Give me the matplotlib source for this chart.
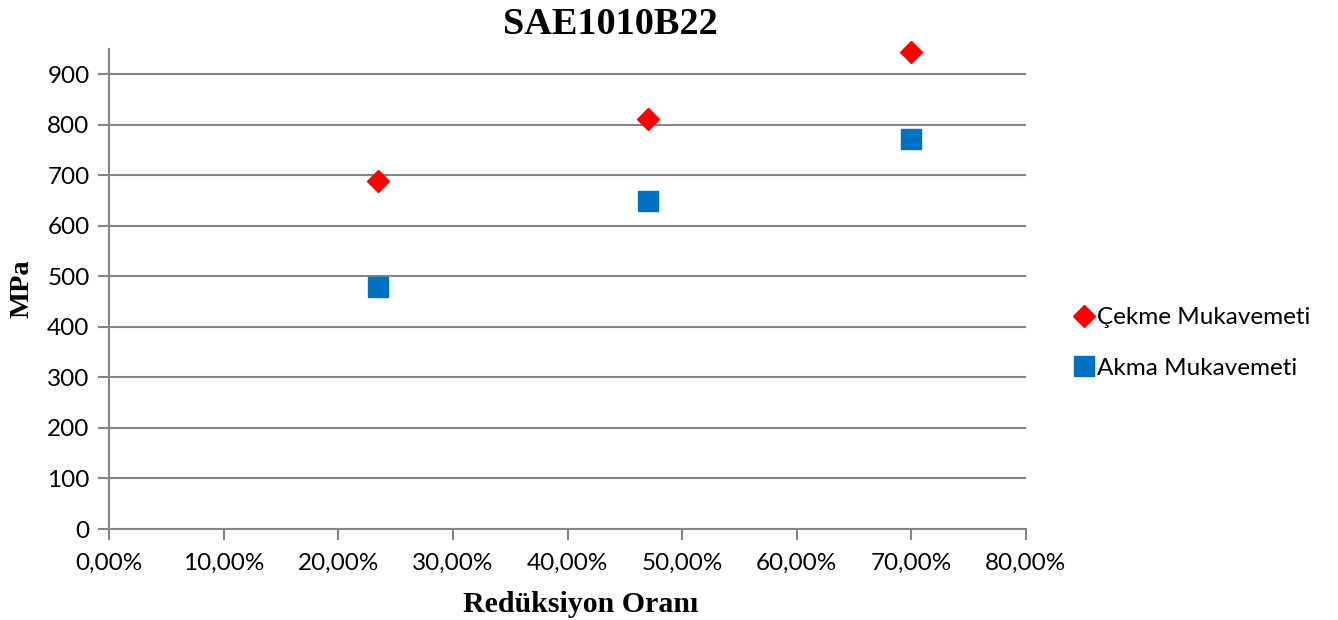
import matplotlib
matplotlib.use('Agg')
import matplotlib.pyplot as plt
from matplotlib.ticker import FuncFormatter

# data
reduction = [0.235, 0.470, 0.700]
cekme = [688, 811, 945]   # Çekme Mukavemeti (MPa)
akma = [479, 649, 771]    # Akma Mukavemeti (MPa)
x_ticks = [0.0, 0.1, 0.2, 0.3, 0.4, 0.5, 0.6, 0.7, 0.8]
y_ticks = [0, 100, 200, 300, 400, 500, 600, 700, 800, 900]

plt.rcParams['font.family'] = ['Lato', 'DejaVu Sans']
grey = '#868686'

fig = plt.figure(figsize=(13.38, 6.2), dpi=100)
ax = fig.add_axes([109 / 1338, 1 - 529 / 620, (1026 - 109) / 1338, (529 - 49) / 620])

ax.plot(reduction, cekme, linestyle='none', marker='D', color='#FF0000',
        markersize=11, label='Çekme Mukavemeti', zorder=3, clip_on=False)
ax.plot(reduction, akma, linestyle='none', marker='s', color='#0070C0',
        markersize=14, label='Akma Mukavemeti', zorder=3, clip_on=False)

ax.set_xlim(0, 0.8)
ax.set_ylim(0, 950)
ax.set_xticks(x_ticks)
ax.set_yticks(y_ticks)
ax.xaxis.set_major_formatter(FuncFormatter(lambda v, p: f'{v * 100:.2f}%'.replace('.', ',')))
ax.yaxis.grid(True, color=grey, linewidth=1.5)
ax.set_axisbelow(True)

for s in ['top', 'right']:
    ax.spines[s].set_visible(False)
for s in ['left', 'bottom']:
    ax.spines[s].set_color(grey)
    ax.spines[s].set_linewidth(1.5)
ax.tick_params(axis='both', direction='out', length=8, width=1.5, color=grey,
               labelsize=17.5, labelcolor='black')
ax.tick_params(axis='x', pad=9)
ax.tick_params(axis='y', pad=6)

serif = ['Liberation Serif', 'DejaVu Serif']
fig.text(610 / 1338, 1 - 25 / 620, 'SAE1010B22', family=serif, fontweight='bold',
         fontsize=27.5, ha='center', va='center')
fig.text(581 / 1338, 1 - 604 / 620, 'Redüksiyon Oranı', family=serif, fontweight='bold',
         fontsize=21.5, ha='center', va='center')
fig.text(22 / 1338, 1 - 289 / 620, 'MPa', family=serif, fontweight='bold',
         fontsize=20.5, ha='center', va='center', rotation=90)

fig.legend(loc='center left', bbox_to_anchor=(1058 / 1338, 1 - 343 / 620), frameon=False,
           fontsize=17.5, handletextpad=0.0, labelspacing=1.2, borderpad=0, handlelength=1.1)

fig.savefig('out.png', dpi=100)
